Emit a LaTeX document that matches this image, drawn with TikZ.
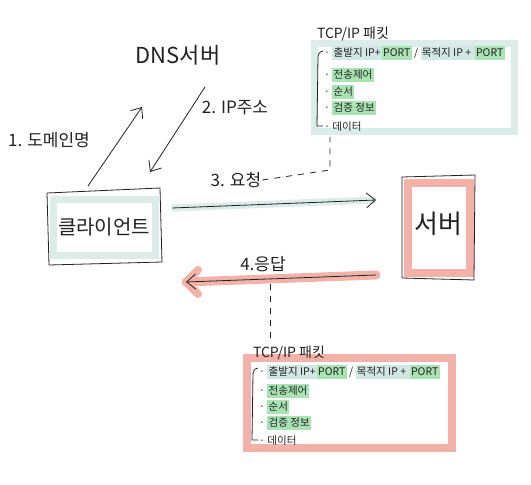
\documentclass[tikz,border=0pt]{standalone}
\usepackage{fontspec}
\setmainfont{Noto Sans CJK KR}
\usetikzlibrary{arrows.meta}
\definecolor{tealband}{HTML}{DCECE8}
\definecolor{tealhl}{HTML}{D2E7E3}
\definecolor{greenhl}{HTML}{A9E3B3}
\definecolor{pinkband}{HTML}{F3B2A9}
\definecolor{ink}{HTML}{222222}
\newcommand{\hlbox}[2]{{\setlength{\fboxsep}{1.3pt}\colorbox{#1}{\vphantom{가Py}#2}}}
\tikzset{
  inkline/.style={draw=ink, line width=0.8pt},
  lbl/.style={font=\fontsize{17}{19}\selectfont, text=ink, inner sep=1pt},
  item/.style={font=\fontsize{10.5}{12}\selectfont, anchor=west, inner sep=0pt, text=ink},
  ptitle/.style={font=\fontsize{14}{16}\selectfont, text=ink, inner sep=0pt},
  arr/.style={inkline, -{Straight Barb[length=9pt,width=15pt]}},
  dashline/.style={inkline, dash pattern=on 6pt off 6pt},
}
\begin{document}
\begin{tikzpicture}[x=1pt,y=-1pt]
\useasboundingbox[fill=white] (0,0) rectangle (531,485);

% DNS server
\node[font=\fontsize{22}{24}\selectfont, text=ink] (dns) at (178,55) {DNS서버};

% client box
\draw[tealband, line width=7pt] (53,199) rectangle (155,255);
\draw[inkline] (47,193) -- (160,188) -- (162,262) -- (49,265) -- cycle;
\node[font=\fontsize{20}{22}\selectfont, text=ink] (client) at (104,227) {클라이언트};
\coordinate (cl1) at (88,186);
\coordinate (cr) at (172,208);
\coordinate (cl4) at (186,282);

% server box
\draw[pinkband, line width=8pt] (408,183) rectangle (470,273);
\draw[inkline] (402,177) -- (475,175) -- (474,280) -- (402,278) -- cycle;
\node[font=\fontsize{26}{28}\selectfont, text=ink] (server) at (438,224) {서버};
\coordinate (sl3) at (376,200);
\coordinate (sl4) at (376,275);

% DNS arrows
\coordinate (d1) at (142,107);
\coordinate (d2s) at (205,87);
\coordinate (d2e) at (150,172);
\draw[arr] (cl1) -- (d1);
\draw[arr] (d2s) -- (d2e);
\node[lbl] (l1) at (49,140) {1. 도메인명};
\node[lbl] (l2) at (235,108) {2. IP주소};

% request arrow
\draw[tealband, line width=7pt] (cr) -- (sl3);
\draw[arr] (cr) -- (sl3);
\node[lbl] (l3) at (236,180) {3. 요청};

% response arrow
\draw[pinkband, line width=9pt, line cap=round] (sl4) -- (cl4);
\draw[pinkband, line width=8pt, line cap=round] (cl4) -- ++(12,-12);
\draw[pinkband, line width=8pt, line cap=round] (cl4) -- ++(12,12);
\draw[arr] (sl4) -- (cl4);
\node[lbl] (l4) at (263,264) {4.응답};

% ---------------- top packet ----------------
\draw[tealband, line width=7pt] (314,43) rectangle (514,131);
\node[ptitle] (t1) at (353,34) {TCP/IP 패킷};
\draw[inkline] (323,51) .. controls (319,52) and (318,54) .. (318,57) -- (317,126) -- (323,126);
\node[item] (a1) at (324,53) {· \hlbox{tealhl}{출발지 IP+}\hlbox{greenhl}{PORT} / \hlbox{tealhl}{목적지 IP + }\hlbox{greenhl}{PORT}};
\node[item] (a2) at (324,75) {· \hlbox{greenhl}{전송제어}};
\node[item] (a3) at (324,92) {· \hlbox{greenhl}{순서}};
\node[item] (a4) at (324,108) {· \hlbox{greenhl}{검증 정보}};
\node[item] (a5) at (324,127) {· 데이터};
\coordinate (p1) at (330,137);
\coordinate (p1m) at (330,170);
\draw[dashline] (l3.east) -- (p1m) -- (p1);

% ---------------- bottom packet ----------------
\draw[pinkband, line width=8pt] (247,358) rectangle (452,448);
\node[ptitle] (t2) at (289,353) {TCP/IP 패킷};
\draw[inkline] (258,368) .. controls (254,369) and (253,371) .. (253,374) -- (252,440) -- (258,440);
\node[item] (b1) at (259,372) {· \hlbox{tealhl}{출발지 IP+}\hlbox{greenhl}{PORT} / \hlbox{tealhl}{목적지 IP + }\hlbox{greenhl}{PORT}};
\node[item] (b2) at (259,391) {· \hlbox{greenhl}{전송제어}};
\node[item] (b3) at (259,407) {· \hlbox{greenhl}{순서}};
\node[item] (b4) at (259,423) {· \hlbox{greenhl}{검증 정보}};
\node[item] (b5) at (259,441) {· 데이터};
\coordinate (q1) at (270,284);
\coordinate (q2) at (270,338);
\draw[dashline] (q1) -- (q2);
\end{tikzpicture}
\end{document}
